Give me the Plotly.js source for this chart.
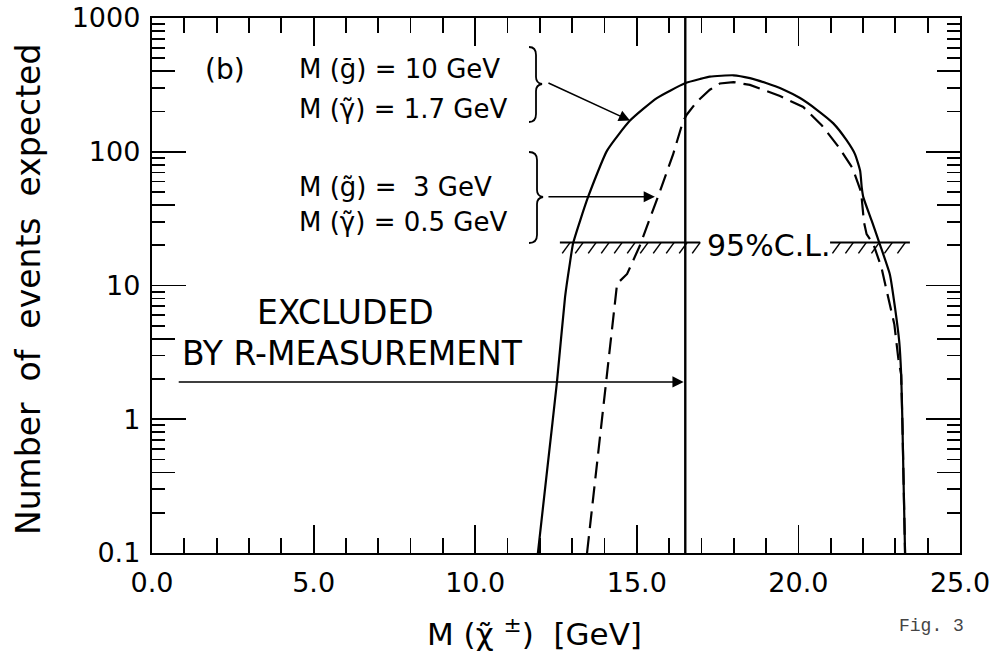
<!DOCTYPE html>
<html>
<head>
<meta charset="utf-8">
<script src="https://cdn.plot.ly/plotly-3.0.1.min.js"></script>
<style>html,body{margin:0;padding:0;background:#fff;}#chart{width:993px;height:652px;}</style>
</head>
<body>
<div id="chart"></div>
<script>
// ---- data ----
// solid: M(g~)=10 GeV, M(gamma~)=1.7 GeV
const solidMass = [11.94, 12.25, 12.53, 12.78, 12.93, 13.03, 13.49, 14.08, 14.79, 15.62, 16.49, 16.96, 17.26, 17.99, 18.5, 19.02, 19.53, 20.05, 20.57, 21.08, 21.49, 21.75, 21.91, 21.96, 22.01, 22.27, 22.52, 22.83, 22.99, 23.12, 23.18, 23.22, 23.25, 23.3];
const solidEvents = [0.1, 0.47, 1.9, 8.2, 14.7, 20.7, 45.7, 102, 171, 252, 325, 350, 364, 373, 355, 325, 292, 252, 206, 163, 122, 96, 72, 54, 45.6, 30.4, 20.3, 12.1, 6.8, 3.8, 2.15, 0.9, 0.38, 0.1];
// dashed: M(g~)=3 GeV, M(gamma~)=0.5 GeV
const dashedMass = [13.46, 14.05, 14.39, 14.7, 14.95, 15.1, 15.66, 16.12, 16.43, 16.55, 16.86, 17.26, 17.57, 17.99, 18.5, 19.43, 20.15, 20.72, 21.24, 21.68, 21.94, 22.03, 22.11, 22.32, 22.57, 22.78, 22.97, 23.09, 23.18, 23.22, 23.25, 23.3];
const dashedEvents = [0.1, 1.87, 10.3, 12.2, 16.6, 20, 46.5, 95, 169, 190, 237, 291, 324, 332, 316, 261, 216, 158, 109, 75, 50, 29.6, 24.2, 20.4, 13.6, 8.1, 5.1, 2.86, 2.15, 0.9, 0.38, 0.1];
// R-measurement exclusion limit and 95% C.L. level
const excludedMass = 16.5;
const clLevel = 21;
const clStart = [12.62, 20.98];
const clEnd = [16.96, 23.45];
// ticks
const xTickVals = [0, 5, 10, 15, 20, 25];
const xTickText = ['0.0', '5.0', '10.0', '15.0', '20.0', '25.0'];
const yTickVals = [0.1, 1, 10, 100, 1000];
const yTickText = ['0.1', '1', '10', '100', '1000'];
const yMidTickVals = [0.4, 4, 40, 400];
const yMinorVals = [];
[0.1, 1, 10, 100].forEach(d => [2, 3, 5, 6, 7, 8, 9].forEach(m => yMinorVals.push(+(d * m).toPrecision(3))));

// ---- layout geometry helpers ----
const W = 993, H = 652;
const M = {l: 152, r: 33, t: 18, b: 99};
const pw = W - M.l - M.r, ph = H - M.t - M.b;
const px2x = p => (p - M.l) / pw;          // pixel -> paper
const py2y = p => (H - M.b - p) / ph;
const FONT = 'DejaVu Sans';

// hatch strokes under the C.L. line (decoration)
const unitPx = pw / 25, decPx = ph / 4;
const hx = [], hy = [];
for (let s = 0; s < clStart.length; s++) {
  for (let xx = clStart[s] + 0.32; xx <= clEnd[s] + 0.01; xx += 13 / unitPx) {
    hx.push(xx, xx - 8 / unitPx, null);
    hy.push(clLevel, clLevel * Math.pow(10, -11 / decPx), null);
  }
}
const clx = [], cly = [];
for (let s = 0; s < clStart.length; s++) { clx.push(clStart[s], clEnd[s], null); cly.push(clLevel, clLevel, null); }

const traces = [
  {x: solidMass, y: solidEvents, mode: 'lines', line: {color: '#000', width: 2.2, shape: 'spline', smoothing: 0.5}, hoverinfo: 'skip'},
  {x: dashedMass, y: dashedEvents, mode: 'lines', line: {color: '#000', width: 2.2, dash: '17px,8px'}, hoverinfo: 'skip'},
  {x: [excludedMass, excludedMass], y: [0.1, 1000], mode: 'lines', line: {color: '#000', width: 2.4}, hoverinfo: 'skip'},
  {x: clx, y: cly, mode: 'lines', line: {color: '#000', width: 2}, hoverinfo: 'skip'},
  {x: hx, y: hy, yaxis: 'y2', mode: 'lines', line: {color: '#000', width: 1.5}, hoverinfo: 'skip'}
];

function txt(t, x, y, size, xanchor) {
  return {text: t, x: x, y: y, xref: 'x', yref: 'y', showarrow: false, xanchor: xanchor || 'left', yanchor: 'middle',
          font: {family: FONT, size: size, color: '#000'}};
}
function arrow(x0, y0, x1, y1) {
  return {text: '', x: x1, y: Math.log10(y1), ax: x0, ay: Math.log10(y0), xref: 'x', yref: 'y', axref: 'x', ayref: 'y',
          showarrow: true, arrowhead: 2, arrowsize: 1.4, arrowwidth: 1.6, arrowcolor: '#000', standoff: 0};
}

const annotations = [
  txt('(b)', 1.58, 2.612, 28),
  txt('M (ḡ) = 10 GeV', 4.49, 2.615, 26),
  txt('M (γ̃) = 1.7 GeV', 4.49, 2.323, 26),
  txt('M (g̃) = \u00a03 GeV', 4.49, 1.739, 26),
  txt('M (γ̃) = 0.5 GeV', 4.49, 1.476, 26),
  txt('EXCLUDED', 3.19, 0.80, 33),
  txt('BY R-MEASUREMENT', 0.87, 0.493, 33),
  txt('95%C.L.', 19.06, 1.30, 30, 'center'),
  arrow(12.22, 330, 14.79, 171),
  arrow(12.22, 46.1, 15.56, 46.1),
  arrow(0.78, 1.9, 16.45, 1.9),
  {text: 'Number\u00a0 of\u00a0 events\u00a0 expected', textangle: -90, x: px2x(28), y: py2y(290), xref: 'paper', yref: 'paper',
   showarrow: false, xanchor: 'center', yanchor: 'middle', font: {family: FONT, size: 33, color: '#000'}},
  {text: 'M (χ̃ <sup>±</sup>)\u00a0 [GeV]', x: px2x(534), y: py2y(632), xref: 'paper', yref: 'paper',
   showarrow: false, xanchor: 'center', yanchor: 'middle', font: {family: FONT, size: 31, color: '#000'}},
  {text: 'Fig. 3', x: px2x(966), y: py2y(626), xref: 'paper', yref: 'paper',
   showarrow: false, xanchor: 'right', yanchor: 'middle', font: {family: 'Liberation Mono', size: 18, color: '#444'}}
];

function bracePath(xl, xm, xt, y0, ym, y1) {
  const P = (a, b) => px2x(a).toFixed(5) + ',' + py2y(b).toFixed(5);
  return 'M ' + P(xl, y0) + ' Q ' + P(xm, y0) + ' ' + P(xm, y0 + 8) + ' L ' + P(xm, ym - 7) +
         ' Q ' + P(xm, ym - 1) + ' ' + P(xt, ym) + ' Q ' + P(xm, ym + 1) + ' ' + P(xm, ym + 7) +
         ' L ' + P(xm, y1 - 8) + ' Q ' + P(xm, y1) + ' ' + P(xl, y1);
}
const shapes = [
  {type: 'path', xref: 'paper', yref: 'paper', path: bracePath(529, 536, 542, 47, 84, 122), line: {color: '#000', width: 1.8}},
  {type: 'path', xref: 'paper', yref: 'paper', path: bracePath(529, 537, 543, 152, 197, 243), line: {color: '#000', width: 1.8}}
];

const layout = {
  width: W, height: H,
  margin: M,
  paper_bgcolor: '#fff', plot_bgcolor: '#fff',
  showlegend: false,
  font: {family: FONT, color: '#000'},
  xaxis: {
    range: [0, 25], tickmode: 'array', tickvals: xTickVals, ticktext: xTickText,
    ticks: 'inside', ticklen: 28, tickwidth: 1.8, tickcolor: '#000',
    showline: true, linewidth: 2.2, linecolor: '#000', mirror: 'ticks',
    showgrid: false, zeroline: false, ticklabelstandoff: 4,
    tickfont: {family: FONT, size: 27, color: '#000'},
    minor: {tickmode: 'linear', tick0: 0, dtick: 1, ticks: 'inside', ticklen: 15, tickwidth: 1.8, tickcolor: '#000', showgrid: false}
  },
  yaxis: {
    type: 'log', range: [-1, 3], tickmode: 'array', tickvals: yTickVals, ticktext: yTickText,
    ticks: 'inside', ticklen: 34, tickwidth: 1.8, tickcolor: '#000',
    showline: true, linewidth: 2.2, linecolor: '#000', mirror: 'ticks',
    showgrid: false, zeroline: false, ticklabelstandoff: 4,
    tickfont: {family: FONT, size: 27, color: '#000'},
    minor: {tickmode: 'array', tickvals: yMinorVals, ticks: 'inside', ticklen: 13, tickwidth: 1.8, tickcolor: '#000', showgrid: false}
  },
  yaxis2: {
    type: 'log', range: [-1, 3], overlaying: 'y', side: 'left', tickmode: 'array', tickvals: yMidTickVals,
    ticks: 'inside', ticklen: 23, tickwidth: 1.8, tickcolor: '#000', showticklabels: false,
    showline: false, mirror: 'ticks', showgrid: false, zeroline: false
  },
  annotations: annotations,
  shapes: shapes
};

Plotly.newPlot('chart', traces, layout, {staticPlot: true, displayModeBar: false});
</script>
</body>
</html>
